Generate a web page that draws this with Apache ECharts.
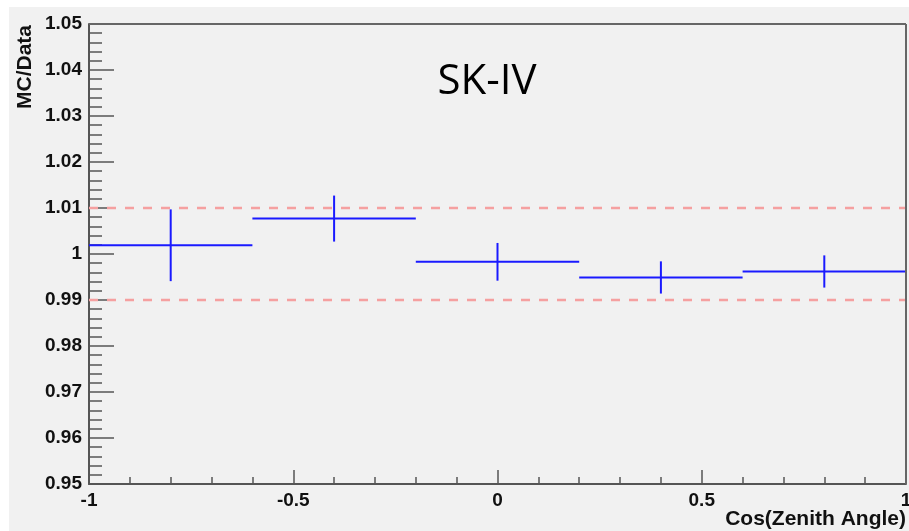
<!DOCTYPE html>
<html>
<head>
<meta charset="utf-8">
<script src="https://cdn.jsdelivr.net/npm/echarts@6/dist/echarts.min.js"></script>
<style>
html,body{margin:0;padding:0;background:#ffffff;}
#c{width:909px;height:531px;}
</style>
</head>
<body>
<div id="c"></div>
<script>
// Data
const binCenters = [-0.8, -0.4, 0.0, 0.4, 0.8];
const binHalfWidth = [0.2, 0.2, 0.2, 0.2, 0.2];
const ratioValues = [1.0019, 1.0077, 0.9983, 0.9949, 0.9962];
const ratioErrors = [0.0078, 0.0050, 0.0041, 0.0035, 0.0035];
const bandLevels = [1.01, 0.99];
const xTickLabels = ['-1', '-0.5', '0', '0.5', '1'];
const titleText = 'SK-IV';
const yAxisTitle = 'MC/Data';
const xAxisTitle = 'Cos(Zenith Angle)';

const chart = echarts.init(document.getElementById('c'), null, {renderer: 'canvas'});

const errData = binCenters.map((x, i) => [x, ratioValues[i], binHalfWidth[i], ratioErrors[i]]);

const axisFont = {fontFamily: 'Liberation Sans', fontWeight: 'bold', fontSize: 19, color: '#111'};

const option = {
  backgroundColor: '#ffffff',
  animation: false,
  graphic: [
    {type: 'rect', z: -10, shape: {x: 9, y: 7, width: 900, height: 524}, style: {fill: '#f1f1f1'}},
    {type: 'text', z: 10, x: 487, y: 82,
     style: {text: titleText, fontFamily: 'Open Sans', fontSize: 42, fill: '#000',
             textAlign: 'center', textVerticalAlign: 'middle'}},
    {type: 'text', z: 10, x: 25, y: 25, rotation: Math.PI / 2,
     style: {text: yAxisTitle, fontFamily: 'Liberation Sans', fontWeight: 'bold', fontSize: 21, fill: '#111',
             textAlign: 'right', textVerticalAlign: 'middle'}},
    {type: 'text', z: 10, x: 906, y: 519,
     style: {text: xAxisTitle, fontFamily: 'Liberation Sans', fontWeight: 'bold', fontSize: 21, fill: '#111',
             textAlign: 'right', textVerticalAlign: 'middle'}},
    {type: 'line', z: 10, shape: {x1: 89, y1: 24, x2: 906, y2: 24}, style: {stroke: '#666', lineWidth: 2}},
    {type: 'line', z: 10, shape: {x1: 906, y1: 24, x2: 906, y2: 484}, style: {stroke: '#666', lineWidth: 2}}
  ],
  grid: {left: 89, right: 3, top: 24, bottom: 47, show: false, containLabel: false, outerBoundsMode: 'none'},
  xAxis: {
    type: 'value', min: -1, max: 1, interval: 0.5,
    axisLine: {show: true, onZero: false, lineStyle: {color: '#555', width: 2}},
    axisTick: {show: true, inside: true, length: 14, lineStyle: {color: '#555', width: 1.5}},
    minorTick: {show: true, splitNumber: 5, length: 7, lineStyle: {color: '#555', width: 1.5}},
    splitLine: {show: false},
    axisLabel: Object.assign({margin: 7, hideOverlap: false, showMaxLabel: true, showMinLabel: true,
      formatter: function (v) {
        const idx = Math.round((v + 1) / 0.5);
        return xTickLabels[idx] !== undefined ? xTickLabels[idx] : '';
      }}, axisFont)
  },
  yAxis: {
    type: 'value', min: 0.95, max: 1.05, interval: 0.01,
    axisLine: {show: true, onZero: false, lineStyle: {color: '#555', width: 2}},
    axisTick: {show: true, inside: true, length: 25, lineStyle: {color: '#555', width: 1.5}},
    minorTick: {show: true, splitNumber: 5, length: 13, lineStyle: {color: '#555', width: 1.5}},
    splitLine: {show: false},
    axisLabel: Object.assign({margin: 7, hideOverlap: false, showMaxLabel: true, showMinLabel: true,
      formatter: function (v) {
        return String(parseFloat(v.toFixed(2)));
      }}, axisFont)
  },
  series: [
    {
      type: 'line', data: [[-1, bandLevels[0]], [1, bandLevels[0]]], symbol: 'none', silent: true,
      lineStyle: {color: '#f5a0a0', width: 2.5, type: [9, 9]}, z: 3
    },
    {
      type: 'line', data: [[-1, bandLevels[1]], [1, bandLevels[1]]], symbol: 'none', silent: true,
      lineStyle: {color: '#f5a0a0', width: 2.5, type: [9, 9]}, z: 3
    },
    {
      type: 'custom', z: 5,
      data: errData,
      renderItem: function (params, api) {
        const x = api.value(0), y = api.value(1), hw = api.value(2), e = api.value(3);
        const pL = api.coord([x - hw, y]);
        const pR = api.coord([x + hw, y]);
        const pT = api.coord([x, y + e]);
        const pB = api.coord([x, y - e]);
        const st = {stroke: '#1a1aff', lineWidth: 2};
        return {type: 'group', children: [
          {type: 'line', shape: {x1: pL[0], y1: pL[1], x2: pR[0], y2: pR[1]}, style: st},
          {type: 'line', shape: {x1: pT[0], y1: pT[1], x2: pB[0], y2: pB[1]}, style: st}
        ]};
      }
    }
  ]
};
chart.setOption(option);
</script>
</body>
</html>
